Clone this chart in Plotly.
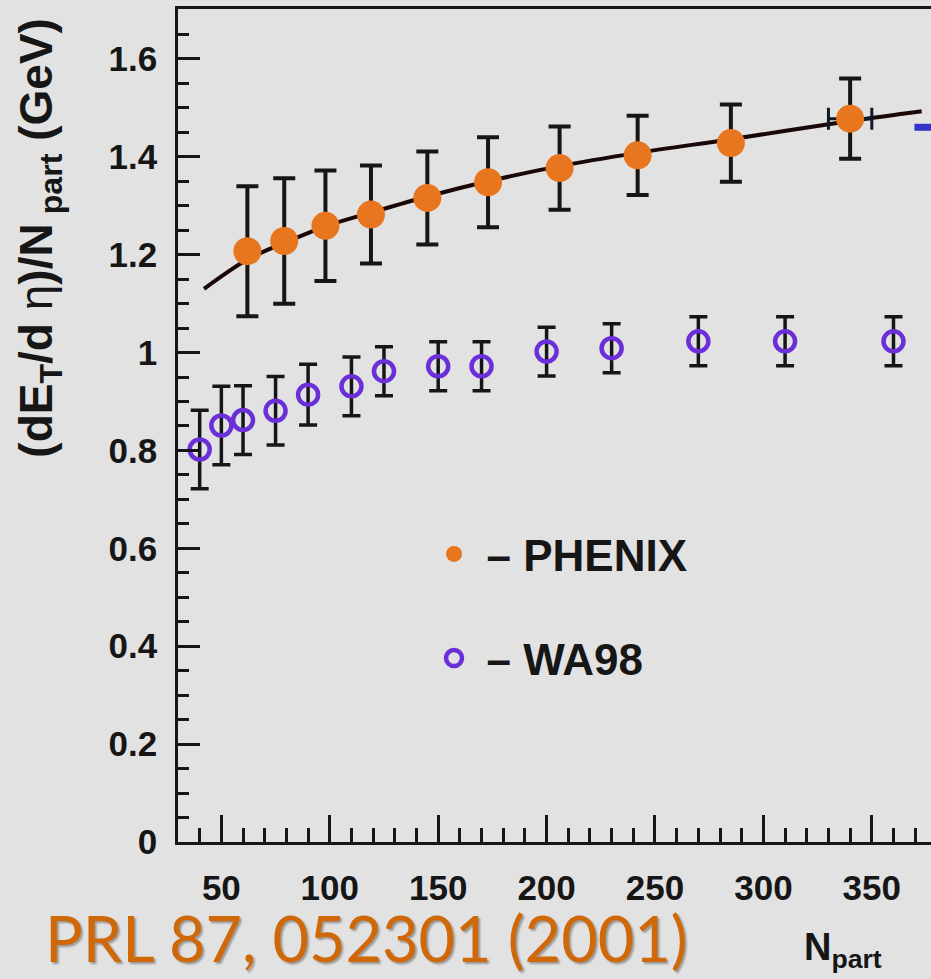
import plotly.graph_objects as go

# PHENIX data (filled orange circles)
phenix_npart = [62, 79, 98, 119, 145, 173, 206, 242, 285, 340]
phenix_val = [1.207, 1.228, 1.259, 1.282, 1.316, 1.348, 1.377, 1.403, 1.428, 1.478]
phenix_err = [0.133, 0.128, 0.113, 0.100, 0.095, 0.092, 0.085, 0.081, 0.079, 0.082]
phenix_xerr = [0, 0, 0, 0, 0, 0, 0, 0, 0, 10]

# WA98 data (open purple circles)
wa98_npart = [40, 50, 60, 75, 90, 110, 125, 150, 170, 200, 230, 270, 310, 360]
wa98_val = [0.802, 0.851, 0.862, 0.881, 0.914, 0.931, 0.962, 0.972, 0.972, 1.002, 1.009, 1.023, 1.023, 1.023]
wa98_err = [0.080, 0.080, 0.070, 0.070, 0.062, 0.060, 0.050, 0.050, 0.050, 0.050, 0.050, 0.050, 0.050, 0.050]

# Fit curve
fit_npart = [42, 62, 79, 98, 119, 145, 173, 206, 242, 285, 340, 373]
fit_val = [1.130, 1.190, 1.224, 1.258, 1.286, 1.319, 1.350, 1.381, 1.408, 1.436, 1.473, 1.493]

BG = "#e2e2e2"
ORANGE = "#e8761f"
PURPLE = "#6a2fd9"
INK = "#161616"
FONT = "Liberation Sans, Arial, sans-serif"

fig = go.Figure()

fig.add_trace(go.Scatter(
    x=fit_npart, y=fit_val, mode="lines", line=dict(color="#1a0808", width=4, shape="spline"),
    showlegend=False, hoverinfo="skip"))

fig.add_trace(go.Scatter(
    x=phenix_npart, y=phenix_val, mode="markers", name="– PHENIX", legendgroup="a",
    marker=dict(symbol="circle", size=28, color=ORANGE, line=dict(width=0)),
    error_y=dict(type="data", array=phenix_err, visible=True, color=INK, thickness=4, width=11),
    error_x=dict(type="data", array=phenix_xerr, visible=True, color="#101828", thickness=3, width=11),
))

fig.add_trace(go.Scatter(
    x=wa98_npart, y=wa98_val, mode="markers", name="– WA98", legendgroup="b",
    marker=dict(symbol="circle", size=20, color="rgba(0,0,0,0)", line=dict(width=4.5, color=PURPLE)),
    error_y=dict(type="data", array=wa98_err, visible=True, color=INK, thickness=3.5, width=9),
))

fig.update_layout(
    width=931, height=979,
    margin=dict(l=178, r=0, t=9, b=137),
    paper_bgcolor=BG, plot_bgcolor=BG,
    font=dict(family=FONT, color=INK),
    showlegend=True,
    legend=dict(
        x=0.3234, y=0.388, xanchor="left", yanchor="top",
        bgcolor="rgba(0,0,0,0)", borderwidth=0,
        font=dict(family=FONT, size=44, weight="bold", color=INK),
        traceorder="grouped", tracegroupgap=44, itemwidth=55,
    ),
    xaxis=dict(
        range=[30, 377.3], tick0=0, dtick=50, ticks="inside", ticklen=27, tickwidth=2.5,
        tickcolor=INK, showline=True, linecolor=INK, linewidth=2.5, mirror=True,
        showgrid=False, zeroline=False, ticklabelstandoff=13,
        tickfont=dict(family=FONT, size=35, weight="bold", color=INK),
        minor=dict(dtick=10, ticks="inside", ticklen=14, tickwidth=2.5, tickcolor=INK, showgrid=False),
    ),
    yaxis=dict(
        range=[0, 1.702], tick0=0, dtick=0.2, ticks="inside", ticklen=22, tickwidth=2.5,
        tickcolor=INK, showline=True, linecolor=INK, linewidth=2.5, mirror=False,
        showgrid=False, zeroline=False, ticklabelstandoff=11,
        tickfont=dict(family=FONT, size=35, weight="bold", color=INK),
        minor=dict(dtick=0.05, ticks="inside", ticklen=11, tickwidth=2.5, tickcolor=INK, showgrid=False),
    ),
    annotations=[
        dict(text="(dE<sub>T</sub>/d <span style='font-weight:normal'>η</span>)/N<sub> part</sub> (GeV)",
             textangle=-90, xref="paper", yref="paper", x=-0.184, y=0.726,
             xanchor="center", yanchor="middle", showarrow=False,
             font=dict(family=FONT, size=46, weight="bold", color=INK)),
        dict(text="N<sub>part</sub>", xref="paper", yref="paper", x=0.883, y=-0.13,
             xanchor="center", yanchor="middle", showarrow=False,
             font=dict(family=FONT, size=38, weight="bold", color=INK)),
        dict(text="PRL 87, 052301 (2001)", xref="paper", yref="paper", x=-0.179, y=-0.1152,
             xanchor="left", yanchor="middle", showarrow=False,
             font=dict(family="Comic Sans MS, Lato, sans-serif", size=63, color="#d06808",
                       shadow="2px 2px 2px #9a9a9a")),
    ],
    shapes=[
        dict(type="line", xref="paper", yref="paper", x0=0.978, x1=1.0, y0=0.858, y1=0.858,
             line=dict(color="#3333cc", width=7)),
    ],
)

fig.write_html("out.html")
